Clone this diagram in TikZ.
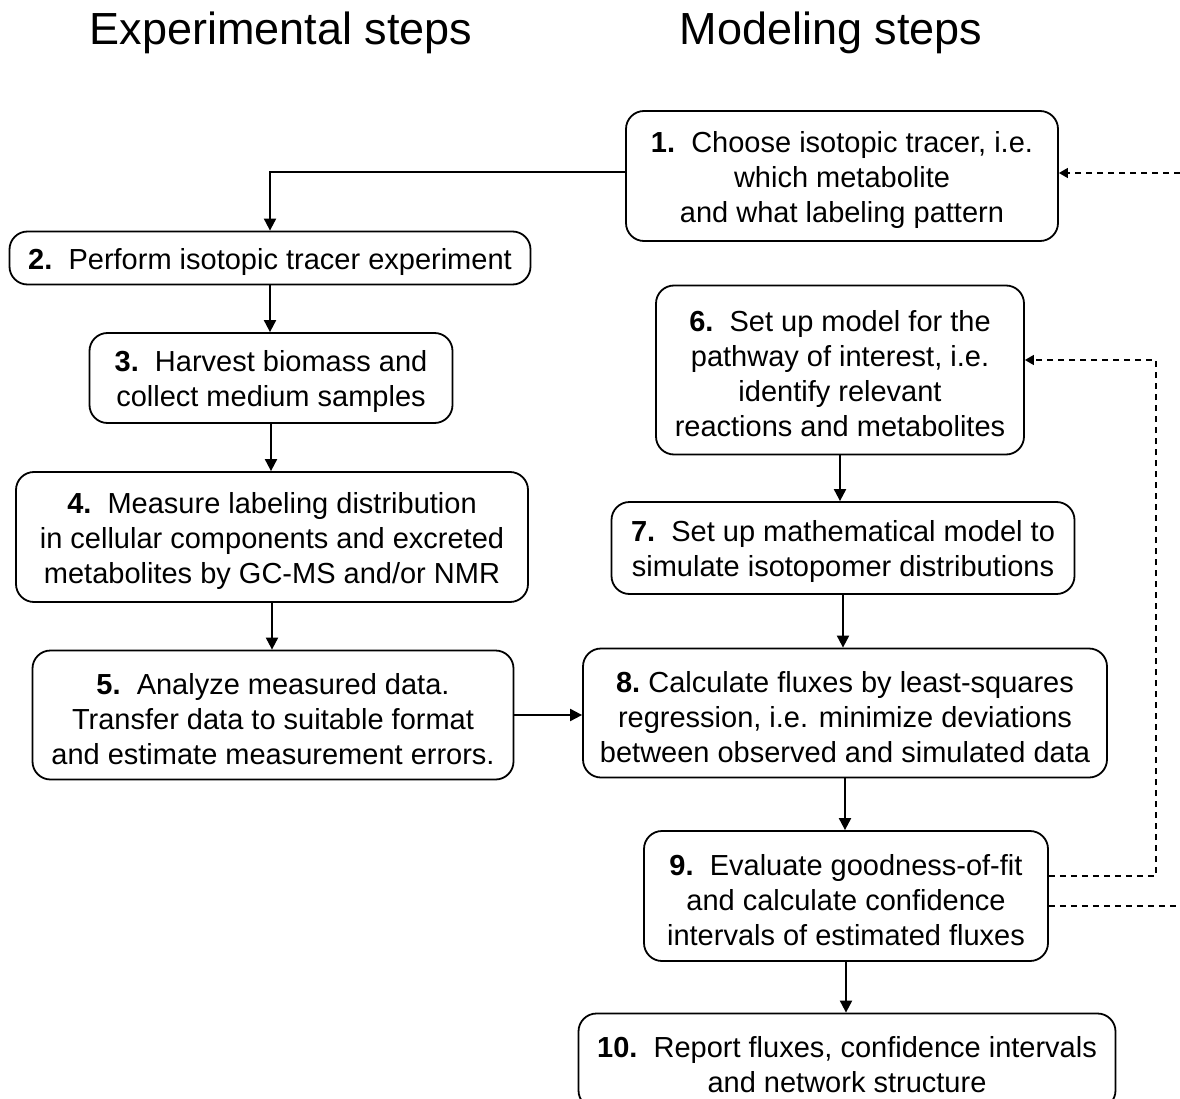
\documentclass[tikz,border=0pt]{standalone}
\usepackage{fontspec}
\setmainfont{Liberation Sans}
\usetikzlibrary{arrows.meta}
\newcommand{\topstrut}{\rule{0pt}{29pt}}
\begin{document}
\begin{tikzpicture}[x=1pt,y=-1pt,
  stepbox/.style={draw, line width=1.8pt, rounded corners=18pt, align=center,
    inner sep=0pt, font=\fontsize{29}{35}\selectfont},
  flow/.style={line width=2pt, -{Triangle[length=12pt,width=12pt]}},
  loopback/.style={line width=1.5pt, dash pattern=on 6pt off 5pt, -{Triangle[length=9pt,width=10pt]}},
  loopline/.style={line width=1.5pt, dash pattern=on 6pt off 5pt},
  title/.style={font=\fontsize{45}{54}\selectfont}]
\clip (0,0) rectangle (1180,1099);
\fill[white] (0,0) rectangle (1180,1099);

\node[title] (t1) at (281,33) {Experimental steps};
\node[title] (t2) at (831,33) {Modeling steps};

\node[stepbox, minimum width=432pt, minimum height=130pt] (b1) at (842,176)
  {\topstrut\textbf{1.}\ \ Choose isotopic tracer, i.e.\\which metabolite\\and what labeling pattern};
\node[stepbox, minimum width=521pt, minimum height=53pt] (b2) at (270,258)
  {\topstrut\textbf{2.}\ \ Perform isotopic tracer experiment};
\node[stepbox, minimum width=363pt, minimum height=90pt] (b3) at (271,378)
  {\topstrut\textbf{3.}\ \ Harvest biomass and\\collect medium samples};
\node[stepbox, minimum width=512pt, minimum height=130pt] (b4) at (272,537)
  {\topstrut\textbf{4.}\ \ Measure labeling distribution\\in cellular components and excreted\\metabolites by GC-MS and/or NMR};
\node[stepbox, minimum width=481pt, minimum height=129pt] (b5) at (273,715)
  {\topstrut\textbf{5.}\ \ Analyze measured data.\\Transfer data to suitable format\\and estimate measurement errors.};
\node[stepbox, minimum width=368pt, minimum height=169pt] (b6) at (840,370)
  {\topstrut\textbf{6.}\ \ Set up model for the\\pathway of interest, i.e.\\identify relevant\\reactions and metabolites};
\node[stepbox, minimum width=463pt, minimum height=92pt] (b7) at (843,548)
  {\topstrut\textbf{7.}\ \ Set up mathematical model to\\simulate isotopomer distributions};
\node[stepbox, minimum width=524pt, minimum height=129pt] (b8) at (845,713)
  {\topstrut\textbf{8.}\ Calculate fluxes by least-squares\\regression, i.e. minimize deviations\\between observed and simulated data};
\node[stepbox, minimum width=404pt, minimum height=130pt] (b9) at (846,896)
  {\topstrut\textbf{9.}\ \ Evaluate goodness-of-fit\\and calculate confidence\\intervals of estimated fluxes};
\node[stepbox, minimum width=537pt, minimum height=95pt] (b10) at (847,1061)
  {\topstrut\textbf{10.}\ \ Report fluxes, confidence intervals\\and network structure};

% solid connectors
\draw[flow] ([yshift=4pt]b1.west) -| (b2.north);
\draw[flow] (b2.south) -- (b2.south |- b3.north);
\draw[flow] (b3.south) -- (b3.south |- b4.north);
\draw[flow] (b4.south) -- (b4.south |- b5.north);
\draw[flow] (b5.east) -- (b5.east -| b8.west);
\draw[flow] (b6.south) -- (b6.south |- b7.north);
\draw[flow] (b7.south) -- (b7.south |- b8.north);
\draw[flow] (b8.south) -- (b8.south |- b9.north);
\draw[flow] (b9.south) -- (b9.south |- b10.north);

% dashed feedback
\coordinate (r1) at (1180,173);
\coordinate (c1) at (1156,876);
\coordinate (c2) at (1156,360);
\coordinate (r2) at (1180,906);
\draw[loopback] (r1) -- (r1 -| b1.east);
\draw[loopback] (b9.east |- c1) -- (c1) -- (c2) -- (c2 -| b6.east);
\draw[loopline] (b9.east |- r2) -- (r2);
\end{tikzpicture}
\end{document}
